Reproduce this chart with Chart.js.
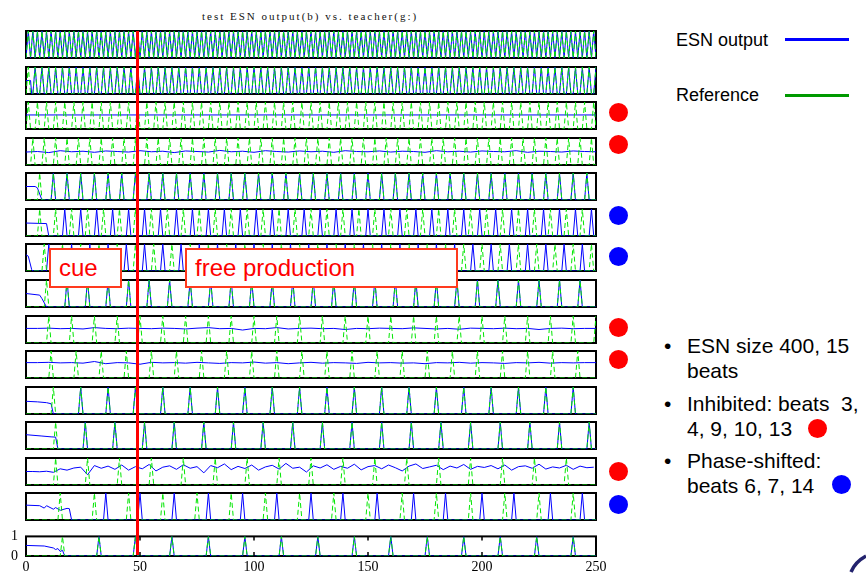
<!DOCTYPE html>
<html>
<head>
<meta charset="utf-8">
<script src="https://cdn.jsdelivr.net/npm/chart.js@4/dist/chart.umd.min.js"></script>
<style>
  body { margin: 0; width: 866px; height: 575px; position: relative; overflow: hidden; background: #fff;
         font-family: "Liberation Sans", Arial, sans-serif; color: #000; }
  #title { position: absolute; left: 202px; top: 10px; font: 11px "Liberation Serif", serif; letter-spacing: 2px;
           line-height: 13px; color: #111; white-space: nowrap; }
  #cueLine { position: absolute; background: #ff0000; }
  .box { position: absolute; top: 248px; height: 40px; box-sizing: border-box; border: 2px solid #ff3a1e;
         background: #fff; color: #ff0000; font-size: 24px; line-height: 36px; padding-left: 8px; white-space: nowrap; }
  .leg { position: absolute; left: 676px; font-size: 18px; line-height: 22px; }
  .legLine { position: absolute; left: 785px; width: 64px; height: 3px; }
  .dot { position: absolute; width: 19px; height: 19px; border-radius: 50%; }
  .red { background: #ff0000; }
  .blue { background: #0000ff; }
  .txt { position: absolute; left: 687px; font-size: 21px; line-height: 25px; white-space: nowrap; }
  .bul { position: absolute; left: 664px; font-size: 21px; line-height: 25px; }
</style>
</head>
<body>
<div id="plots"></div>
<div id="title">test ESN output(b) vs. teacher(g:)</div>
<div id="cueLine"></div>
<div class="box" style="left:49px;width:73px;">cue</div>
<div class="box" style="left:185px;width:273px;">free production</div>

<div class="leg" style="top:29px;">ESN output</div>
<div class="legLine" style="top:38px;background:#0000ff;"></div>
<div class="leg" style="top:84px;">Reference</div>
<div class="legLine" style="top:94px;background:#009900;"></div>

<div class="bul" style="top:333px;">•</div>
<div class="txt" style="top:333px;">ESN size 400, 15</div>
<div class="txt" style="top:358px;">beats</div>
<div class="bul" style="top:391px;">•</div>
<div class="txt" style="top:391px;">Inhibited: beats&nbsp; 3,</div>
<div class="txt" style="top:416px;">4, 9, 10, 13</div>
<div class="dot red" style="left:808px;top:419px;"></div>
<div class="bul" style="top:448px;">•</div>
<div class="txt" style="top:448px;">Phase-shifted:</div>
<div class="txt" style="top:473px;">beats 6, 7, 14</div>
<div class="dot blue" style="left:832px;top:475px;"></div>

<svg style="position:absolute;left:840px;top:550px;" width="26" height="25">
  <path d="M 11 22 Q 15 12 26 6" stroke="#23236e" stroke-width="3.5" fill="none"/>
</svg>

<script>
// time axis of every panel
const steps = 250;
const xTicks = [0, 50, 100, 150, 200, 250];
const yTicks = [0, 1];
const cueEnd = 49; // end of the cue phase (red line)

// teacher spike times (green, dotted), one list per beat
const teach1 = [1,3,5,7,9,11,13,15,17,19,21,23,25,27,29,31,33,35,37,39,41,43,45,47,49,51,53,55,57,59,61,63,65,67,69,71,73,75,77,79,81,83,85,87,89,91,93,95,97,99,101,103,105,107,109,111,113,115,117,119,121,123,125,127,129,131,133,135,137,139,141,143,145,147,149,151,153,155,157,159,161,163,165,167,169,171,173,175,177,179,181,183,185,187,189,191,193,195,197,199,201,203,205,207,209,211,213,215,217,219,221,223,225,227,229,231,233,235,237,239,241,243,245,247,249];
const teach2 = [1,4,7,10,13,16,19,22,25,28,31,34,37,40,43,46,49,52,55,58,61,64,67,70,73,76,79,82,85,88,91,94,97,100,103,106,109,112,115,118,121,124,127,130,133,136,139,142,145,148,151,154,157,160,163,166,169,172,175,178,181,184,187,190,193,196,199,202,205,208,211,214,217,220,223,226,229,232,235,238,241,244,247,250];
const teach3 = [1,5,9,13,17,21,25,29,33,37,41,45,49,53,57,61,65,69,73,77,81,85,89,93,97,101,105,109,113,117,121,125,129,133,137,141,145,149,153,157,161,165,169,173,177,181,185,189,193,197,201,205,209,213,217,221,225,229,233,237,241,245,249];
const teach4 = [3,8,13,18,23,28,33,38,43,48,53,58,63,68,73,78,83,88,93,98,103,108,113,118,123,128,133,138,143,148,153,158,163,168,173,178,183,188,193,198,203,208,213,218,223,228,233,238,243,248];
const teach5 = [6,12,18,24,30,36,42,48,54,60,66,72,78,84,90,96,102,108,114,120,126,132,138,144,150,156,162,168,174,180,186,192,198,204,210,216,222,228,234,240,246];
const teach6 = [6,13,20,27,34,41,48,55,62,69,76,83,90,97,104,111,118,125,132,139,146,153,160,167,174,181,188,195,202,209,216,223,230,237,244];
const teach7 = [8,16,24,32,40,48,56,64,72,80,88,96,104,112,120,128,136,144,152,160,168,176,184,192,200,208,216,224,232,240,248];
const teach8 = [9,18,27,36,45,54,63,72,81,90,99,108,117,126,135,144,153,162,171,180,189,198,207,216,225,234,243];
const teach9 = [10,20,30,40,50,60,70,80,90,100,110,120,130,140,150,160,170,180,190,200,210,220,230,240,250];
const teach10 = [11,22,33,44,55,66,77,88,99,110,121,132,143,154,165,176,187,198,209,220,231,242];
const teach11 = [12,24,36,48,60,72,84,96,108,120,132,144,156,168,180,192,204,216,228,240];
const teach12 = [13,26,39,52,65,78,91,104,117,130,143,156,169,182,195,208,221,234,247];
const teach13 = [13,27,41,55,69,83,97,111,125,139,153,167,181,195,209,223,237];
const teach14 = [15,30,45,60,75,90,105,120,135,150,165,180,195,210,225,240];
const teach15 = [16,32,48,64,80,96,112,128,144,160,176,192,208,224,240];

// ESN output (blue): first locked spike for beats that follow the teacher
const firstOut = [1, 4, null, null, 12, null, null, 18, null, null, 24, 26, null, null, 32];

// phase-shifted beats: own spike times
const out6 = [17,24,31,38,45,52,59,66,73,80,87,94,101,108,115,122,129,136,143,150,157,164,171,178,185,192,199,206,213,220,227,234,241,248];
const out7 = [10,20,28,36,44,52,60,68,76,84,92,100,108,116,124,132,140,148,156,164,172,180,188,196,204,212,220,228,236,244];
const out14 = [35,50,65,80,95,110,125,139,154,170,184,200,214,230,244];

// inhibited beats: output level, sampled every levelStep (out13 every noiseStep)
const levelStep = 5;
const noiseStep = 3;
const out3 = [0.52, 0.52];
const out4 = [0.48,0.50,0.46,0.53,0.49,0.51,0.47,0.52,0.50,0.48,0.53,0.49,0.51,0.46,0.52,0.50,0.48,0.54,0.49,0.51,0.47,0.53,0.50,0.48,0.52,0.49,0.51,0.47,0.53,0.50,0.49,0.52,0.48,0.51,0.50,0.47,0.53,0.49,0.51,0.48,0.52,0.50,0.49,0.53,0.47,0.51,0.50,0.48,0.52,0.50,0.49];
const out9 = [0.54,0.54,0.55,0.53,0.54,0.52,0.57,0.54,0.53,0.55,0.54,0.53,0.55,0.54,0.52,0.55,0.57,0.53,0.54,0.48,0.54,0.53,0.57,0.52,0.54,0.55,0.53,0.54,0.50,0.54,0.53,0.55,0.54,0.53,0.56,0.54,0.52,0.54,0.51,0.55,0.54,0.53,0.55,0.53,0.54,0.50,0.54,0.55,0.53,0.54,0.54];
const out10 = [0.57,0.57,0.58,0.56,0.57,0.55,0.61,0.53,0.57,0.56,0.51,0.58,0.56,0.57,0.55,0.58,0.56,0.54,0.57,0.56,0.59,0.55,0.57,0.53,0.56,0.58,0.55,0.57,0.56,0.54,0.58,0.56,0.57,0.55,0.56,0.53,0.57,0.56,0.58,0.55,0.57,0.56,0.54,0.57,0.56,0.58,0.55,0.57,0.56,0.57,0.57];
const out13 = [0.50,0.50,0.49,0.51,0.47,0.60,0.55,0.63,0.66,0.38,0.72,0.62,
               0.70,0.58,0.74,0.55,0.68,0.60,0.76,0.52,0.66,0.71,0.58,0.75,
               0.62,0.68,0.45,0.72,0.64,0.78,0.57,0.69,0.61,0.74,0.55,0.67,
               0.73,0.59,0.80,0.62,0.66,0.48,0.71,0.63,0.75,0.58,0.69,0.62,
               0.77,0.56,0.68,0.72,0.60,0.74,0.64,0.52,0.70,0.78,0.61,0.67,
               0.73,0.57,0.70,0.63,0.76,0.58,0.69,0.65,0.72,0.60,0.74,0.55,
               0.68,0.71,0.62,0.77,0.59,0.67,0.63,0.73,0.58,0.70,0.64,0.66];

// output during the cue, before it locks on: [step, value]
const cue2 = [[0,0.5],[2,0.5],[2.5,0]];
const cue5 = [[0,0.5],[4,0.5],[5,0.45],[7,0]];
const cue6 = [[0,0.48],[9,0.46],[10,0]];
const cue7 = [[0,0.6],[1,0.55],[2.5,0.05],[3,0]];
const cue8 = [[0,0.5],[6,0.44],[7,0.31],[9,0]];
const cue11 = [[0,0.47],[5,0.45],[9,0.42],[11,0.38],[12,0]];
const cue12 = [[0,0.53],[7,0.48],[11,0.45],[13,0.44],[14,0]];
const cue14 = [[0,0.55],[6,0.53],[8,0.44],[9,0.53],[12,0.40],[13,0.46],[15,0.36],[18,0.43],[19,0.42],[20,0]];
const cue15 = [[0,0.54],[8,0.51],[12,0.41],[13,0.33],[14,0.38],[15,0.23],[16,0.29],[17,0]];

const teach = [teach1,teach2,teach3,teach4,teach5,teach6,teach7,teach8,teach9,teach10,teach11,teach12,teach13,teach14,teach15];
const shifted = {6: out6, 7: out7, 14: out14};
const levels = {3: [out3, steps], 4: [out4, levelStep], 9: [out9, levelStep], 10: [out10, levelStep], 13: [out13, noiseStep]};
const cues = {2: cue2, 5: cue5, 6: cue6, 7: cue7, 8: cue8, 11: cue11, 12: cue12, 14: cue14, 15: cue15};

function spikeTrain(times, cue) {
  const pts = cue ? cue.map(p => ({x: p[0], y: p[1]})) : [{x: 0, y: 0}];
  times.forEach(t => pts.push({x: t - 1, y: 0}, {x: t, y: 1}, {x: t + 1, y: 0}));
  if (pts[pts.length - 1].x < steps) pts.push({x: steps, y: 0});
  return pts;
}
function levelLine(values, step) {
  return values.map((v, i) => ({x: i * step, y: v}));
}

// panel frame + inward ticks (MATLAB look)
const frame = {
  id: 'frame',
  beforeDatasetsDraw(chart) {
    const a = chart.chartArea, c = chart.ctx;
    c.save();
    c.strokeStyle = '#000';
    c.lineWidth = 2;
    c.strokeRect(a.left, a.top, a.right - a.left, a.bottom - a.top);
    c.restore();
  },
  afterDatasetsDraw(chart) {
    if (!chart.options.scales.x.display) return;
    const a = chart.chartArea, c = chart.ctx, sx = chart.scales.x;
    c.save();
    c.strokeStyle = '#000';
    c.lineWidth = 1.5;
    xTicks.slice(1, -1).forEach(v => {
      const x = sx.getPixelForValue(v);
      c.beginPath();
      c.moveTo(x, a.top); c.lineTo(x, a.top + 4);
      c.moveTo(x, a.bottom); c.lineTo(x, a.bottom - 4);
      c.stroke();
    });
    c.restore();
  }
};

const left = 26, right = 596, top0 = 31, gap = 35.57, ph = 27;
const serif = {family: '"Liberation Serif", "Times New Roman", serif', size: 14};
const charts = [];

for (let i = 0; i < 15; i++) {
  const beat = i + 1;
  const last = beat === 15;
  const top = Math.round(top0 + gap * i);

  let blue;
  if (levels[beat]) blue = levelLine(levels[beat][0], levels[beat][1]);
  else if (shifted[beat]) blue = spikeTrain(shifted[beat], cues[beat]);
  else blue = spikeTrain(teach[i].filter(t => t >= firstOut[i]), cues[beat]);
  const green = spikeTrain(teach[i]);

  const cv = document.createElement('canvas');
  let cl, ct, cw, ch, padding;
  if (last) {
    cl = 0; ct = top - 9; cw = 620; ch = 9 + ph + 19;
    padding = {top: 9, right: cw - right, bottom: 0, left: 0};
  } else {
    cl = left - 2; ct = top - 2; cw = right - left + 4; ch = ph + 4;
    padding = 2;
  }
  cv.width = cw; cv.height = ch;
  cv.style.cssText = `position:absolute;left:${cl}px;top:${ct}px;width:${cw}px;height:${ch}px`;
  document.getElementById('plots').appendChild(cv);

  const xScale = {
    type: 'linear', min: 0, max: steps, display: last,
    grid: {display: false, drawTicks: false}, border: {display: false},
    ticks: {stepSize: 50, font: serif, color: '#000', padding: 3, maxRotation: 0, autoSkip: false}
  };
  const yScale = {
    min: yTicks[0], max: yTicks[1], display: last,
    grid: {display: false, drawTicks: false}, border: {display: false},
    ticks: {stepSize: 1, font: serif, color: '#000', padding: 8, autoSkip: false}
  };
  if (last) {
    xScale.afterBuildTicks = s => { s.ticks = xTicks.map(v => ({value: v})); };
    xScale.afterFit = s => { s.height = 19; };
    yScale.afterBuildTicks = s => { s.ticks = yTicks.map(v => ({value: v})); };
    yScale.afterFit = s => { s.width = left; };
  }

  charts.push(new Chart(cv.getContext('2d'), {
    type: 'line',
    data: {
      datasets: [
        {data: green, borderColor: '#00e600', borderWidth: 1, borderDash: [5, 3], pointRadius: 0, tension: 0},
        {data: blue, borderColor: '#0000ff', borderWidth: 1, pointRadius: 0, tension: 0}
      ]
    },
    options: {
      animation: false,
      responsive: false,
      devicePixelRatio: 1,
      events: [],
      layout: {padding: padding},
      plugins: {legend: {display: false}, tooltip: {enabled: false}},
      scales: {x: xScale, y: yScale}
    },
    plugins: [frame]
  }));
}

// red line marking the end of the cue, placed through the bottom panel's x scale
const xs = charts[14].scales.x;
const lx = xs.getPixelForValue(cueEnd);
const line = document.getElementById('cueLine');
line.style.left = (lx - 1.75) + 'px';
line.style.width = '3.5px';
line.style.top = '31px';
line.style.height = '524px';

// markers beside the inhibited (red) and phase-shifted (blue) beats
const inhibited = [3, 4, 9, 10, 13];
const phaseShifted = [6, 7, 14];
const markerY = {3: 112, 4: 144, 6: 215, 7: 256, 9: 327, 10: 359, 13: 471, 14: 504};
inhibited.concat(phaseShifted).forEach(b => {
  const d = document.createElement('div');
  d.className = 'dot ' + (inhibited.includes(b) ? 'red' : 'blue');
  d.style.left = '609px';
  d.style.top = (markerY[b] - 9.5) + 'px';
  document.body.appendChild(d);
});
</script>
</body>
</html>
